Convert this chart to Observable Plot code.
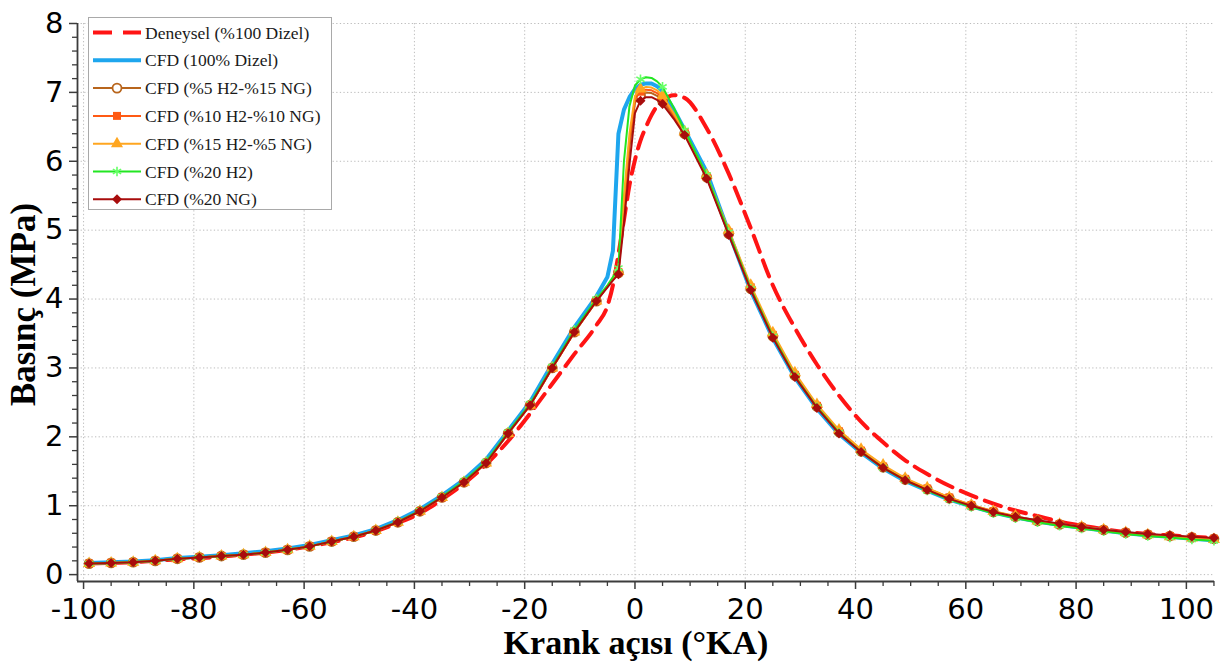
<!DOCTYPE html>
<html><head><meta charset="utf-8">
<script src="https://cdn.jsdelivr.net/npm/d3@7"></script>
<script src="https://cdn.jsdelivr.net/npm/@observablehq/plot@0.6"></script>
<style>
body{margin:0;background:#fff;}
#wrap{position:relative;width:1224px;height:663px;}
#legend{position:absolute;left:88px;top:17px;width:242px;height:191px;border:1.5px solid #a9a9a9;background:#fff;}
</style></head><body><div id="wrap"></div>
<script>
// Crank angle (°KA) sampling points
const angle = [-99,-95,-91,-87,-83,-79,-75,-71,-67,-63,-59,-55,-51,-47,-43,-39,-35,-31,-27,-23,-19,-15,-11,-7,
  -5,-4,-3,-2,-1,0,1,2,3,4,5,7,9,
  13,17,21,25,29,33,37,41,45,49,53,57,61,65,69,73,77,81,85,89,93,97,101,105];

// Pressure (MPa)
const deneysel = [0.16,0.17,0.18,0.20,0.22,0.24,0.26,0.29,0.32,0.36,0.41,0.47,0.54,0.63,0.75,0.89,1.09,1.32,1.60,1.94,2.34,2.77,3.20,3.62,
  3.90,4.20,4.65,5.15,5.65,6.02,6.30,6.50,6.67,6.80,6.88,6.96,6.92,
  6.48,5.82,5.03,4.20,3.58,3.05,2.60,2.22,1.92,1.66,1.46,1.29,1.15,1.03,0.93,0.85,0.77,0.71,0.66,0.62,0.59,0.57,0.55,0.53];
const cfdDizel = [0.17,0.18,0.19,0.21,0.24,0.26,0.28,0.31,0.34,0.38,0.43,0.50,0.57,0.66,0.79,0.95,1.15,1.38,1.67,2.09,2.51,3.06,3.59,4.04,
  4.32,4.70,6.40,6.75,6.93,7.05,7.11,7.13,7.13,7.09,7.02,6.76,6.46,
  5.85,4.97,4.12,3.43,2.86,2.41,2.04,1.77,1.54,1.36,1.22,1.09,0.99,0.90,0.83,0.77,0.72,0.68,0.64,0.60,0.57,0.55,0.52,0.50];
const cfdH5NG15 = [0.16,0.17,0.18,0.20,0.23,0.25,0.27,0.29,0.32,0.36,0.41,0.48,0.55,0.64,0.76,0.92,1.12,1.34,1.62,2.05,2.46,3.00,3.52,3.97,
  4.18,4.28,4.38,5.30,6.20,6.85,6.96,7.00,6.99,6.95,6.88,6.65,6.40,
  5.77,4.95,4.15,3.46,2.89,2.44,2.07,1.79,1.56,1.38,1.24,1.11,1.00,0.91,0.84,0.78,0.73,0.69,0.65,0.61,0.58,0.56,0.54,0.52];
const cfdH10NG10 = [0.16,0.17,0.18,0.20,0.23,0.25,0.27,0.29,0.32,0.36,0.41,0.48,0.55,0.64,0.76,0.92,1.12,1.34,1.62,2.05,2.46,3.00,3.52,3.97,
  4.18,4.29,4.39,5.40,6.30,6.90,7.01,7.04,7.03,6.99,6.92,6.68,6.42,
  5.78,4.97,4.17,3.48,2.90,2.45,2.08,1.80,1.57,1.39,1.25,1.12,1.01,0.92,0.84,0.78,0.73,0.69,0.65,0.61,0.58,0.56,0.54,0.52];
const cfdH15NG5 = [0.16,0.17,0.18,0.20,0.23,0.25,0.27,0.29,0.32,0.36,0.41,0.48,0.55,0.64,0.76,0.92,1.12,1.34,1.62,2.05,2.46,3.00,3.52,3.97,
  4.19,4.30,4.40,5.50,6.40,6.95,7.05,7.08,7.07,7.03,6.95,6.70,6.43,
  5.80,5.00,4.20,3.51,2.93,2.47,2.10,1.82,1.59,1.40,1.26,1.12,1.01,0.92,0.85,0.78,0.73,0.69,0.65,0.61,0.58,0.55,0.53,0.51];
const cfdH20 = [0.16,0.17,0.18,0.20,0.23,0.25,0.27,0.29,0.32,0.36,0.41,0.48,0.55,0.64,0.77,0.93,1.13,1.36,1.64,2.07,2.48,3.02,3.55,4.00,
  4.20,4.32,4.45,6.00,6.80,7.10,7.19,7.22,7.21,7.16,7.08,6.78,6.45,
  5.80,4.97,4.15,3.46,2.88,2.43,2.06,1.78,1.55,1.37,1.22,1.09,0.98,0.89,0.82,0.76,0.71,0.67,0.63,0.59,0.56,0.54,0.51,0.49];
const cfdNG20 = [0.16,0.17,0.18,0.20,0.23,0.25,0.27,0.29,0.32,0.36,0.41,0.48,0.55,0.64,0.76,0.92,1.12,1.34,1.62,2.05,2.46,3.00,3.52,3.97,
  4.17,4.27,4.36,5.10,5.95,6.70,6.88,6.93,6.93,6.89,6.83,6.62,6.38,
  5.75,4.93,4.13,3.44,2.87,2.42,2.05,1.78,1.55,1.37,1.23,1.10,1.00,0.91,0.84,0.79,0.74,0.69,0.65,0.62,0.59,0.57,0.55,0.53];

const seriesNames = ["Deneysel (%100 Dizel)","CFD (100% Dizel)","CFD (%5 H2-%15 NG)","CFD (%10 H2-%10 NG)","CFD (%15 H2-%5 NG)","CFD (%20 H2)","CFD (%20 NG)"];
const seriesColors = ["#ff1414","#1ea6ee","#b8651c","#ff5a14","#ffa620","#22e622","#a80c0c"];
const seriesSymbols = [null,null,"circle","square","triangle","asterisk","diamond2"];
const xTicks = [-100,-80,-60,-40,-20,0,20,40,60,80,100];
const yTicks = [0,1,2,3,4,5,6,7,8];

const seriesValues = [deneysel,cfdDizel,cfdH5NG15,cfdH10NG10,cfdH15NG5,cfdH20,cfdNG20];
const rows = seriesValues.flatMap((vals,s) => angle.map((a,i) => ({angle:a, p:vals[i], s})));
const isMarker = d => (d.angle + 99) % 4 === 0;

const lineMarks = [];
seriesValues.forEach((_, s) => {
  const data = rows.filter(d => d.s === s);
  const opts = {x:"angle", y:"p", stroke: seriesColors[s]};
  if (s === 0) Object.assign(opts, {strokeWidth:4, strokeDasharray:"17,9", curve:"monotone-x"});
  else if (s === 1) Object.assign(opts, {strokeWidth:4});
  else Object.assign(opts, {strokeWidth:2});
  lineMarks.push(Plot.line(data, opts));
  const sym = seriesSymbols[s];
  if (sym) {
    const dopts = {x:"angle", y:"p", symbol: sym, r:4.5};
    if (sym === "circle") Object.assign(dopts, {fill:"#fff", stroke:seriesColors[s], strokeWidth:1.8});
    else if (sym === "asterisk") Object.assign(dopts, {stroke:"#66ff66", strokeWidth:1.6});
    else Object.assign(dopts, {fill:seriesColors[s]});
    lineMarks.push(Plot.dot(data.filter(isMarker), dopts));
  }
});

const fmt = d => String(d);
const axisColor = "#3c3c3c";
const chart = Plot.plot({
  width:1224, height:663,
  marginLeft:77, marginRight:10, marginTop:23, marginBottom:82,
  x:{domain:[-101.1,105.1]},
  y:{domain:[-0.1,8]},
  style:{fontFamily:"DejaVu Sans", color:"#000", background:"#fff", overflow:"visible"},
  marks:[
    Plot.gridX(xTicks, {stroke:"#bdbdbd", strokeOpacity:1, strokeDasharray:"1.3,2.3"}),
    Plot.gridY(yTicks, {stroke:"#bdbdbd", strokeOpacity:1, strokeDasharray:"1.3,2.3"}),
    Plot.axisX(d3.range(-100,106,5).filter(v => v % 20 !== 0), {tickSize:5, fill:"none", stroke:axisColor, strokeWidth:1.3, label:null}),
    Plot.axisY(d3.range(0,8.001,0.2).map(v => +v.toFixed(1)).filter(v => v % 1 !== 0), {tickSize:5, fill:"none", stroke:axisColor, strokeWidth:1.3, label:null}),
    Plot.axisX(xTicks, {tickSize:8, tickPadding:9, fontSize:29, fill:"#000", stroke:axisColor, strokeWidth:1.5, label:null, tickFormat:fmt}),
    Plot.axisY(yTicks, {tickSize:8, tickPadding:6, fontSize:29, fill:"#000", stroke:axisColor, strokeWidth:1.5, label:null, tickFormat:fmt}),
    Plot.ruleX([-101.1], {stroke:axisColor, strokeWidth:1.8}),
    Plot.ruleY([-0.1], {stroke:axisColor, strokeWidth:1.8}),
    ...lineMarks,
    Plot.text(["Krank açısı (°KA)"], {frameAnchor:"bottom", textAnchor:"middle", lineAnchor:"middle", dx:-10, dy:62, fontFamily:"Liberation Serif", fontWeight:"bold", fontSize:34, fill:"#000"}),
    Plot.text(["Basınç (MPa)"], {frameAnchor:"left", textAnchor:"middle", lineAnchor:"middle", rotate:-90, dx:-54, dy:2, fontFamily:"Liberation Serif", fontWeight:"bold", fontSize:35, fill:"#000"})
  ]
});

const wrap = document.getElementById("wrap");
wrap.appendChild(chart);

// Legend
const legend = document.createElement("div");
legend.id = "legend";
wrap.appendChild(legend);
const symMap = {circle:d3.symbolCircle, square:d3.symbolSquare, triangle:d3.symbolTriangle, asterisk:d3.symbolAsterisk, diamond2:d3.symbolDiamond2};
const lsvg = d3.select(legend).append("svg").attr("width",242).attr("height",191).style("display","block");
seriesNames.forEach((name,s) => {
  const cy = 14.5 + 27.8*s;
  const g = lsvg.append("g");
  const ln = g.append("line").attr("x1",4).attr("x2",52).attr("y1",cy).attr("y2",cy).attr("stroke",seriesColors[s]);
  if (s === 0) ln.attr("stroke-width",4).attr("stroke-dasharray","19,11");
  else if (s === 1) ln.attr("stroke-width",4);
  else ln.attr("stroke-width",2);
  const sym = seriesSymbols[s];
  if (sym) {
    const p = g.append("path").attr("d", d3.symbol(symMap[sym], Math.PI*4.5*4.5)()).attr("transform",`translate(28,${cy})`);
    if (sym === "circle") p.attr("fill","#fff").attr("stroke",seriesColors[s]).attr("stroke-width",1.8);
    else if (sym === "asterisk") p.attr("fill","none").attr("stroke","#66ff66").attr("stroke-width",1.6);
    else p.attr("fill",seriesColors[s]);
  }
  g.append("text").attr("x",56).attr("y",cy).attr("dy","0.35em").attr("font-family","Liberation Serif").attr("font-size",17.5).attr("fill","#1a1a1a").text(name);
});
</script></body></html>
